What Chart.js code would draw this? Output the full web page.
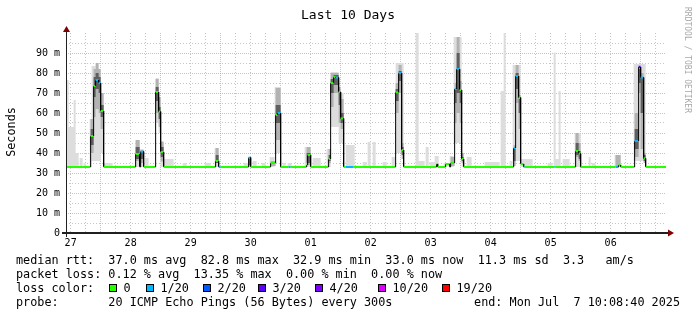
<!DOCTYPE html>
<html><head><meta charset="utf-8">
<script src="https://cdn.jsdelivr.net/npm/chart.js@4.4.0/dist/chart.umd.min.js"></script>
<style>html,body{margin:0;padding:0;background:#fff}canvas{display:block}</style>
</head><body>
<canvas id="c" width="697" height="315"></canvas>
<script>
// time axis: hours since 00:00 Jun 27 (window ends Mon Jul 7 10:08:40)
const startHour = 10.144, endHour = 250.144;
const dayNoons = [12, 36, 60, 84, 108, 132, 156, 180, 204, 228];
const dayLabels = ['27', '28', '29', '30', '01', '02', '03', '04', '05', '06'];
const yTickValues = [0, 10, 20, 30, 40, 50, 60, 70, 80, 90];

const lossLabels = ['0', '1/20', '2/20', '3/20', '4/20', '10/20', '19/20'];
const lossColors = ['#26ff00', '#00b8ff', '#0059ff', '#5e00ff', '#7e00ff', '#dd00ff', '#ff0000'];

// median rtt (ms), step changes: start hour, value, loss-colour index
const medT = [10.0, 20.0, 21.2, 22.0, 23.2, 24.0, 25.2, 38.0, 39.6, 40.0, 41.2, 46.0, 47.2, 48.0, 49.2, 70.0, 71.2, 72.0, 83.2, 84.0, 92.0, 94.0, 94.8, 96.0, 99.2, 100.0, 106.4, 106.8, 108.0, 115.2, 116.0, 117.2, 118.0, 119.2, 120.0, 121.2, 122.0, 125.2, 142.0, 143.2, 144.4, 145.2, 158.4, 158.8, 162.0, 163.6, 164.0, 165.6, 166.4, 167.6, 168.4, 169.2, 189.2, 190.0, 191.2, 192.0, 193.2, 193.6, 205.6, 206.0, 214.0, 215.2, 216.0, 230.0, 231.2, 232.0, 237.6, 239.2, 240.0, 241.2, 242.0];
const medV = [33, 48.5, 73.5, 76.5, 75, 61, 33, 39.5, 33, 40.7, 33, 70.5, 60.7, 40.5, 33, 36, 33, 33, 37.7, 33, 35, 59, 60, 33, 33, 33, 34, 39, 33, 37, 75, 78, 77.7, 70.5, 57.3, 33, 33, 33, 70.3, 80, 41.5, 33, 34.5, 33, 34.5, 33, 35, 72, 82, 71.5, 37, 33, 42.5, 78.5, 67.7, 34.5, 33, 33, 33, 33, 41, 39.7, 33, 33, 34, 33, 46, 83, 77.7, 37.3, 33];
const medL = [0, 0, 0, 1, 1, 0, 0, 0, 0, 1, 0, 0, 0, 0, 0, 0, 1, 0, 1, 0, 0, 0, 1, 0, 1, 0, 0, 0, 0, 0, 0, 0, 1, 0, 0, 0, 1, 0, 0, 1, 0, 0, 0, 0, 0, 0, 0, 1, 1, 0, 0, 0, 1, 1, 0, 0, 1, 0, 1, 0, 0, 0, 0, 1, 0, 0, 1, 3, 1, 0, 0];

// smoke bands: [from hour, to hour, low ms, high ms]
const smokeLight = [
  [10.0, 11.2, 33, 76.5], [11.2, 13.2, 33, 53], [13.2, 14.0, 33, 66.5], [14.0, 15.2, 33, 40], [15.6, 16.8, 33, 37.5],
  [17.2, 18.0, 33, 35], [19.6, 20.4, 33, 57], [20.4, 22.0, 36, 83.5], [22.0, 24.0, 36, 82], [24.0, 25.2, 40, 70],
  [25.2, 28.8, 33, 35], [38.0, 39.6, 33, 46.5], [39.6, 41.2, 33, 42], [41.6, 43.2, 33, 37.5], [46.0, 47.2, 55, 77.5],
  [47.2, 48.0, 50, 68], [48.0, 49.2, 33, 45.5], [49.2, 53.2, 33, 37], [56.8, 58.4, 33, 35], [65.6, 68.0, 33, 35],
  [69.6, 71.2, 33, 42.5], [81.2, 83.6, 33, 35], [83.6, 84.4, 33, 38], [84.8, 86.4, 33, 36], [88.4, 90.0, 33, 35],
  [91.6, 93.6, 33, 38], [93.6, 96.0, 40, 73], [96.8, 98.0, 33, 35], [98.8, 100.4, 33, 35], [105.6, 108.0, 33, 43],
  [108.8, 112.0, 33, 37.5], [114.4, 116.0, 33, 42], [116.0, 119.2, 53, 80.5], [119.2, 121.2, 45, 70], [122.0, 125.6, 33, 44],
  [128.8, 130.4, 33, 35.5], [130.8, 132.0, 33, 45.5], [132.8, 134.0, 33, 45.5], [136.8, 138.4, 33, 35.5], [140.4, 142.0, 33, 38],
  [142.0, 145.2, 40, 85], [150.0, 151.2, 33, 100], [151.2, 153.6, 33, 36], [154.0, 155.2, 33, 43], [155.6, 157.6, 33, 35.5],
  [157.6, 159.2, 33, 38.5], [161.2, 162.4, 33, 35], [163.6, 165.2, 33, 38.5], [165.2, 168.4, 45, 98], [168.4, 169.2, 33, 40],
  [170.4, 172.4, 33, 38], [177.6, 183.6, 33, 35.5], [184.0, 185.2, 33, 71], [185.2, 186.0, 33, 100], [187.6, 188.8, 33, 36],
  [188.8, 192.0, 36, 84], [192.0, 196.8, 33, 37], [202.8, 204.8, 33, 35], [205.2, 206.0, 33, 90.3], [206.0, 207.2, 33, 37],
  [207.2, 208.0, 33, 71], [208.8, 211.6, 33, 37], [213.6, 216.0, 33, 50], [219.2, 220.0, 33, 38], [220.4, 222.0, 33, 35],
  [229.6, 232.0, 33, 39], [237.2, 242.0, 36, 84.5]
];
const smokeMid = [
  [20.0, 21.2, 40, 57], [21.2, 22.0, 58, 82], [22.0, 23.2, 62, 85], [23.2, 24.0, 60, 82], [24.0, 25.2, 52, 70],
  [38.0, 39.6, 36, 46.5], [40.0, 41.2, 35, 41.5], [46.0, 47.2, 60, 77], [47.2, 48.0, 53, 68], [48.0, 49.2, 35.7, 45.7],
  [70.0, 71.2, 35, 42.5], [83.2, 84.0, 33.5, 37.7], [92.0, 94.0, 33.5, 36], [94.0, 96.0, 46.5, 72.5], [106.4, 108.0, 34, 43],
  [115.2, 116.0, 35, 42], [116.0, 117.2, 63, 80], [117.2, 119.2, 70, 80], [119.2, 120.0, 55, 73], [120.0, 121.2, 52, 67],
  [142.0, 143.2, 60, 75], [143.2, 144.4, 70, 84], [144.4, 145.2, 37, 45], [164.0, 165.6, 33.5, 38], [165.6, 166.4, 55, 75],
  [166.4, 167.6, 60, 98], [167.6, 168.4, 55, 76], [168.4, 169.2, 35, 40], [189.2, 190.0, 33.5, 44], [190.0, 191.2, 65, 84],
  [191.2, 192.0, 52, 69], [214.0, 215.2, 38, 50], [215.2, 216.0, 36, 45], [230.0, 232.0, 33.5, 39], [237.6, 239.2, 38, 60],
  [239.2, 240.0, 70, 84], [240.0, 241.2, 42, 80], [241.2, 242.0, 35, 40]
];
const smokeDark = [
  [20.0, 21.2, 44, 52], [21.2, 22.0, 68, 78], [22.0, 23.2, 72, 80], [23.2, 24.0, 70, 78], [24.0, 25.2, 58, 64],
  [38.0, 39.6, 37, 43], [40.0, 41.2, 37, 41], [46.0, 47.2, 66, 73], [47.2, 48.0, 57, 63], [48.0, 49.2, 38, 43],
  [70.0, 71.2, 35, 39], [83.2, 84.0, 34, 37], [94.0, 96.0, 55, 64], [106.4, 108.0, 35, 40], [115.2, 116.0, 36, 39],
  [116.0, 117.2, 70, 77], [117.2, 119.2, 74, 79], [119.2, 120.0, 64, 71], [120.0, 121.2, 55, 60], [142.0, 143.2, 66, 72],
  [143.2, 144.4, 76, 81], [144.4, 145.2, 39, 43], [165.6, 166.4, 65, 72], [166.4, 167.6, 70, 90], [167.6, 168.4, 65, 72],
  [168.4, 169.2, 36, 38], [189.2, 190.0, 36, 42], [190.0, 191.2, 72, 80], [191.2, 192.0, 60, 67], [214.0, 215.2, 39, 45],
  [215.2, 216.0, 37, 41], [237.6, 239.2, 42, 52], [239.2, 240.0, 75, 82], [240.0, 241.2, 60, 78], [241.2, 242.0, 36, 39]
];

const titleText = 'Last 10 Days';
const yAxisTitle = 'Seconds';
const creditText = 'RRDTOOL / TOBI OETIKER';
const legendRtt = 'median rtt:  37.0 ms avg  82.8 ms max  32.9 ms min  33.0 ms now  11.3 ms sd  3.3   am/s';
const legendLoss = 'packet loss: 0.12 % avg  13.35 % max  0.00 % min  0.00 % now';
const legendLossColor = 'loss color:';
const legendProbe = 'probe:       20 ICMP Echo Pings (56 Bytes) every 300s';
const legendEnd = 'end: Mon Jul  7 10:08:40 2025';

// ---- build library data from the arrays ----
const medPts = [];
medT.forEach((t, i) => {
  const t1 = i + 1 < medT.length ? medT[i + 1] : endHour;
  medPts.push({x: t, y: medV[i]});
  medPts.push({x: t1, y: medV[i]});
});
function bandLines(bands) {
  const base = 33, lo = [], hi = [];
  let cur = startHour;
  bands.forEach(([t0, t1, l, h]) => {
    if (t0 > cur + 1e-6) { lo.push({x: cur, y: base}); hi.push({x: cur, y: base}); }
    lo.push({x: t0, y: l}); hi.push({x: t0, y: h});
    cur = t1;
  });
  lo.push({x: cur, y: base}); hi.push({x: cur, y: base});
  lo.push({x: endHour, y: base}); hi.push({x: endHour, y: base});
  return [lo, hi];
}
const [darkLo, darkHi] = bandLines(smokeDark);
const [midLo, midHi] = bandLines(smokeMid);
const [lightLo, lightHi] = bandLines(smokeLight);
const bandDs = (data, order, fill, color) => ({
  data, order, stepped: 'before', borderWidth: 0, pointRadius: 0,
  fill, backgroundColor: color, borderColor: 'transparent'
});

const GRID = 'rgba(150,150,150,0.55)';
const MGRID = 'rgba(240,120,120,0.6)';
const MONO = '"DejaVu Sans Mono", monospace';

const decor = {
  id: 'decor',
  afterDraw(chart) {
    const {ctx, chartArea: a} = chart;
    ctx.save();
    // axes
    ctx.fillStyle = '#202020';
    ctx.fillRect(Math.round(a.left), a.top - 4, 1, a.bottom - a.top + 8);
    ctx.fillRect(a.left - 4, a.bottom - 1, a.right - a.left + 8, 2);
    ctx.fillStyle = '#800000';
    const ax = Math.round(a.left) + 0.5;
    ctx.beginPath(); ctx.moveTo(ax - 3.5, a.top - 1); ctx.lineTo(ax, a.top - 7); ctx.lineTo(ax + 3.5, a.top - 1); ctx.closePath(); ctx.fill();
    ctx.beginPath(); ctx.moveTo(a.right + 2, a.bottom - 3.5); ctx.lineTo(a.right + 8, a.bottom); ctx.lineTo(a.right + 2, a.bottom + 3.5); ctx.closePath(); ctx.fill();
    // title
    ctx.fillStyle = '#000';
    ctx.textBaseline = 'alphabetic';
    ctx.font = '13px ' + MONO;
    ctx.textAlign = 'center';
    ctx.fillText(titleText, 348, 18.5);
    // y title
    ctx.font = '11.8px ' + MONO;
    ctx.save(); ctx.translate(15, 132); ctx.rotate(-Math.PI / 2); ctx.fillText(yAxisTitle, 0, 0); ctx.restore();
    // credit
    ctx.save(); ctx.fillStyle = '#a8a8a8'; ctx.font = '8px ' + MONO;
    ctx.translate(685, 60); ctx.rotate(Math.PI / 2); ctx.fillText(creditText, 0, 0); ctx.restore();
    // legend
    ctx.textAlign = 'left';
    ctx.font = '11.8px ' + MONO;
    ctx.fillText(legendRtt, 16, 263.5);
    ctx.fillText(legendLoss, 16, 277.5);
    ctx.fillText(legendLossColor, 16, 291.5);
    const boxX = [109, 146, 203, 258, 315, 378, 442];
    lossLabels.forEach((lab, i) => {
      ctx.fillStyle = lossColors[i];
      ctx.fillRect(boxX[i], 284, 7, 7);
      ctx.strokeStyle = '#000'; ctx.lineWidth = 1;
      ctx.strokeRect(boxX[i] + 0.5, 284.5, 7, 7);
      ctx.fillStyle = '#000';
      ctx.fillText(lab, boxX[i] + 14.5, 291.5);
    });
    ctx.fillText(legendProbe, 16, 305.5);
    ctx.textAlign = 'right';
    ctx.fillText(legendEnd, 680, 305.5);
    ctx.restore();
  }
};

new Chart(document.getElementById('c'), {
  type: 'line',
  data: {
    datasets: [
      {
        data: medPts, order: 0, pointRadius: 0, fill: false, borderColor: '#000',
        borderCapStyle: 'butt', borderJoinStyle: 'miter',
        segment: {
          borderColor: c => c.p0DataIndex % 2 === 0 ? lossColors[medL[c.p0DataIndex / 2]] : '#000',
          borderWidth: c => c.p0DataIndex % 2 === 0 ? 2 : 1
        }
      },
      bandDs(darkLo, 1, false, 'transparent'),
      bandDs(darkHi, 1, '-1', 'rgba(95,95,95,1)'),
      bandDs(midLo, 2, false, 'transparent'),
      bandDs(midHi, 2, '-1', 'rgba(178,178,178,1)'),
      bandDs(lightLo, 3, false, 'transparent'),
      bandDs(lightHi, 3, '-1', 'rgba(221,221,221,1)')
    ]
  },
  options: {
    responsive: false, animation: false, devicePixelRatio: 1,
    layout: {padding: {left: 0, right: 31, top: 33, bottom: 0}},
    plugins: {legend: {display: false}, tooltip: {enabled: false}, title: {display: false}},
    elements: {line: {tension: 0}},
    scales: {
      x: {
        type: 'linear', min: startHour, max: endHour,
        afterBuildTicks: s => { const t = []; for (let h = dayNoons[0]; h <= endHour; h += 6) t.push({value: h}); s.ticks = t; },
        afterFit: s => { s.height = 82; },
        ticks: {
          autoSkip: false, maxRotation: 0, padding: 4, color: '#000',
          font: {family: MONO, size: 10},
          callback: v => { const i = dayNoons.indexOf(v); return i >= 0 ? dayLabels[i] : ''; }
        },
        grid: {color: c => (c.tick && c.tick.value % 24 === 0) ? MGRID : GRID, lineWidth: 1, drawTicks: false},
        border: {display: false, dash: c => (c.tick && c.tick.value % 24 === 0) ? [1, 1] : [1, 2]}
      },
      y: {
        min: 0, max: 100,
        afterBuildTicks: s => { const t = []; for (let v = 0; v <= 100; v += 5) t.push({value: v}); s.ticks = t; },
        afterFit: s => { s.width = 66; },
        ticks: {
          autoSkip: false, padding: 6, color: '#000', font: {family: MONO, size: 10},
          callback: v => yTickValues.includes(v) ? (v === 0 ? '0' : v + ' m') : ''
        },
        grid: {
          color: c => { const v = c.tick ? c.tick.value : 0; if (v === 0 || v === 100) return 'transparent'; return v % 10 === 0 ? MGRID : GRID; },
          lineWidth: 1, drawTicks: false
        },
        border: {display: false, dash: c => (c.tick && c.tick.value % 10 === 0) ? [1, 1] : [1, 2]}
      }
    }
  },
  plugins: [decor]
});
</script>
</body></html>
